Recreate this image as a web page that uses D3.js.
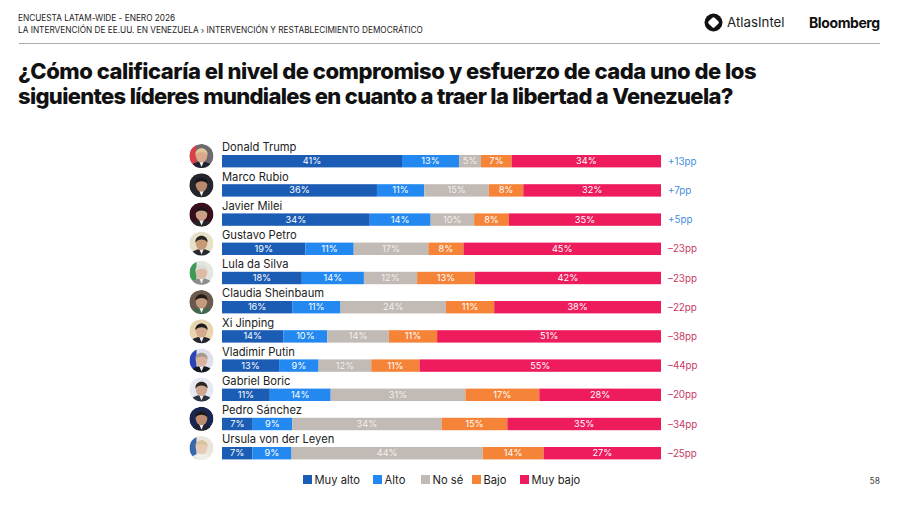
<!DOCTYPE html>
<html>
<head>
<meta charset="utf-8">
<script src="https://cdn.jsdelivr.net/npm/d3@7"></script>
<style>
  html, body { margin: 0; padding: 0; background: #fff; }
  text { font-family: "Inter", sans-serif; }
</style>
</head>
<body>
<div id="chart"></div>
<script>
var leaders = ["Donald Trump", "Marco Rubio", "Javier Milei", "Gustavo Petro", "Lula da Silva",
  "Claudia Sheinbaum", "Xi Jinping", "Vladimir Putin", "Gabriel Boric", "Pedro Sánchez", "Ursula von der Leyen"];
var levels = ["Muy alto", "Alto", "No sé", "Bajo", "Muy bajo"];
var levelColors = ["#1b5cb5", "#2389f0", "#c2bab5", "#f58438", "#ee1c5c"];

var muyAlto = [41, 36, 34, 19, 18, 16, 14, 13, 11, 7, 7];
var alto    = [13, 11, 14, 11, 14, 11, 10, 9, 14, 9, 9];
var noSe    = [5, 15, 10, 17, 12, 24, 14, 12, 31, 34, 44];
var bajo    = [7, 8, 8, 8, 13, 11, 11, 11, 17, 15, 14];
var muyBajo = [34, 32, 35, 45, 42, 38, 51, 55, 28, 35, 27];
var netLabels = ["+13pp", "+7pp", "+5pp", "–23pp", "–23pp", "–22pp", "–38pp", "–44pp", "–20pp", "–34pp", "–25pp"];

// avatar colours: background, left side accent, suit, skin, hair
var avatarBg     = ["#6e6a70", "#24262b", "#3a0f1c", "#e6e0c8", "#e4e6e2", "#6a5a4c", "#e8d4b0", "#dfe0ea", "#e6e8f2", "#17274f", "#ebe6dc"];
var avatarAccent = ["#d8404a", "#24262b", "#3a0f1c", "#e6e0c8", "#3f9a5a", "#6a5a4c", "#e8d4b0", "#2a45b8", "#e6e8f2", "#17274f", "#3a66b0"];
var avatarSuit   = ["#1d2430", "#23272c", "#26232a", "#2b2a30", "#8d8d90", "#3f6a50", "#23262e", "#16181f", "#2c3240", "#1e2230", "#f0ece6"];
var avatarSkin   = ["#dcaa88", "#b98a6c", "#caa08a", "#c99a78", "#dcbca4", "#c39a80", "#d3ab8c", "#d8b4a0", "#cfa78e", "#bd8d70", "#e6ccb4"];
var avatarHair   = ["#dcc998", "#15151a", "#1c1418", "#2a2523", "#dcdcd8", "#241a16", "#1c1c1e", "#a8988a", "#2e2622", "#1c1a1c", "#d8c49c"];

var width = 900, height = 506;
var svg = d3.select("#chart").append("svg")
    .attr("width", width)
    .attr("height", height)
    .style("display", "block");

// header
svg.append("text").attr("x", 18).attr("y", 21)
    .attr("font-size", 8.25).attr("fill", "#222").text("ENCUESTA LATAM-WIDE - ENERO 2026");
svg.append("text").attr("x", 18).attr("y", 32.5)
    .attr("font-size", 8.25).attr("fill", "#222")
    .text("LA INTERVENCIÓN DE EE.UU. EN VENEZUELA › INTERVENCIÓN Y RESTABLECIMIENTO DEMOCRÁTICO");
svg.append("line").attr("x1", 19).attr("x2", 880).attr("y1", 43.5).attr("y2", 43.5)
    .attr("stroke", "#aaa").attr("stroke-width", 1);

// logos
svg.append("circle").attr("cx", 713.5).attr("cy", 22.5).attr("r", 9).attr("fill", "#111");
svg.append("rect").attr("x", -4.2).attr("y", -4.2).attr("width", 8.4).attr("height", 8.4).attr("rx", 1.6)
    .attr("transform", "translate(713.5,22.5) rotate(45)").attr("fill", "#fff");
svg.append("text").attr("x", 727).attr("y", 27).attr("font-size", 13.3).attr("fill", "#222").text("AtlasIntel");
svg.append("text").attr("x", 809).attr("y", 27.5).attr("font-size", 14).attr("font-weight", 700)
    .attr("letter-spacing", -0.4).attr("fill", "#111").text("Bloomberg");

// title
svg.append("text").attr("x", 18).attr("y", 79)
    .attr("font-size", 22).attr("font-weight", 800).attr("letter-spacing", -0.48).attr("fill", "#111")
    .text("¿Cómo calificaría el nivel de compromiso y esfuerzo de cada uno de los");
svg.append("text").attr("x", 18).attr("y", 104)
    .attr("font-size", 22).attr("font-weight", 800).attr("letter-spacing", -0.68).attr("fill", "#111")
    .text("siguientes líderes mundiales en cuanto a traer la libertad a Venezuela?");

// bars
var rows = leaders.map(function(d, i) {
  return { name: d, "Muy alto": muyAlto[i], "Alto": alto[i], "No sé": noSe[i], "Bajo": bajo[i], "Muy bajo": muyBajo[i] };
});

var x = d3.scaleLinear().domain([0, 1]).range([222, 661]);
var y = d3.scaleBand().domain(leaders).range([141.4, 462.6]).paddingInner(0).paddingOuter(0);
var color = d3.scaleOrdinal().domain(levels).range(levelColors);

var series = d3.stack().keys(levels).offset(d3.stackOffsetExpand)(rows);

var barTop = 13.6, barH = 12.4;

var groups = svg.selectAll("g.level")
    .data(series)
    .enter()
      .append("g")
      .attr("class", "level")
      .attr("fill", function(d) { return color(d.key); });

groups.selectAll("rect")
    .data(function(d) { return d; })
    .enter()
      .append("rect")
      .attr("x", function(d) { return x(d[0]); })
      .attr("y", function(d) { return y(d.data.name) + barTop; })
      .attr("width", function(d) { return x(d[1]) - x(d[0]); })
      .attr("height", barH);

groups.each(function(s) {
  d3.select(this).selectAll("text")
    .data(s)
    .enter()
      .append("text")
      .attr("x", function(d) { return (x(d[0]) + x(d[1])) / 2; })
      .attr("y", function(d) { return y(d.data.name) + barTop + barH / 2 + 3; })
      .attr("text-anchor", "middle")
      .attr("font-size", 9.2)
      .attr("fill", "#fff")
      .attr("fill-opacity", s.key === "No sé" ? 0.8 : 1)
      .text(function(d) { return d.data[s.key] + "%"; });
});

// names and net values
svg.selectAll("text.name")
    .data(leaders)
    .enter()
      .append("text")
      .attr("class", "name")
      .attr("x", 222)
      .attr("y", function(d) { return y(d) + 10; })
      .attr("font-size", 11.2)
      .attr("fill", "#222")
      .text(function(d) { return d; });

svg.selectAll("text.net")
    .data(netLabels)
    .enter()
      .append("text")
      .attr("class", "net")
      .attr("x", 668)
      .attr("y", function(d, i) { return y(leaders[i]) + barTop + barH / 2 + 3.5; })
      .attr("font-size", 9.8)
      .attr("fill", function(d) { return d.charAt(0) === "+" ? "#3f8fdc" : "#c8395f"; })
      .text(function(d) { return d; });

// avatars
var defs = svg.append("defs");
var avatars = svg.selectAll("g.avatar")
    .data(leaders)
    .enter()
      .append("g")
      .attr("class", "avatar")
      .attr("transform", function(d) { return "translate(201.5," + (y(d) + y.bandwidth() / 2) + ")"; });

avatars.each(function(d, i) {
  var g = d3.select(this);
  defs.append("clipPath").attr("id", "clip" + i).append("circle").attr("r", 12);
  var inner = g.append("g").attr("clip-path", "url(#clip" + i + ")");
  inner.append("circle").attr("r", 12).attr("fill", avatarBg[i]);
  inner.append("rect").attr("x", -12).attr("y", -12).attr("width", 7).attr("height", 24).attr("fill", avatarAccent[i]);
  inner.append("ellipse").attr("cy", 12).attr("rx", 11).attr("ry", 6.5).attr("fill", avatarSuit[i]);
  inner.append("path").attr("d", "M-2.5,5 L2.5,5 L0,11Z").attr("fill", "#f2f2f2");
  inner.append("ellipse").attr("cy", -0.5).attr("rx", 5.8).attr("ry", 7).attr("fill", avatarSkin[i]);
  inner.append("path").attr("d", "M-6,-1 C-7,-10 7,-10 6,-1 C4,-5 -4,-5 -6,-1Z").attr("fill", avatarHair[i]);
});

// legend
var legendX = [303, 373, 421, 472, 520];
var legend = svg.selectAll("g.legend")
    .data(levels)
    .enter()
      .append("g")
      .attr("class", "legend")
      .attr("transform", function(d, i) { return "translate(" + legendX[i] + ",475)"; });
legend.append("rect").attr("width", 9).attr("height", 9)
    .attr("fill", function(d) { return color(d); });
legend.append("text").attr("x", 11.5).attr("y", 8.8)
    .attr("font-size", 11.2).attr("fill", "#222").text(function(d) { return d; });

// page number
svg.append("text").attr("x", 880).attr("y", 484).attr("text-anchor", "end")
    .attr("font-size", 8.5).attr("fill", "#444").text("58");
</script>
</body>
</html>
